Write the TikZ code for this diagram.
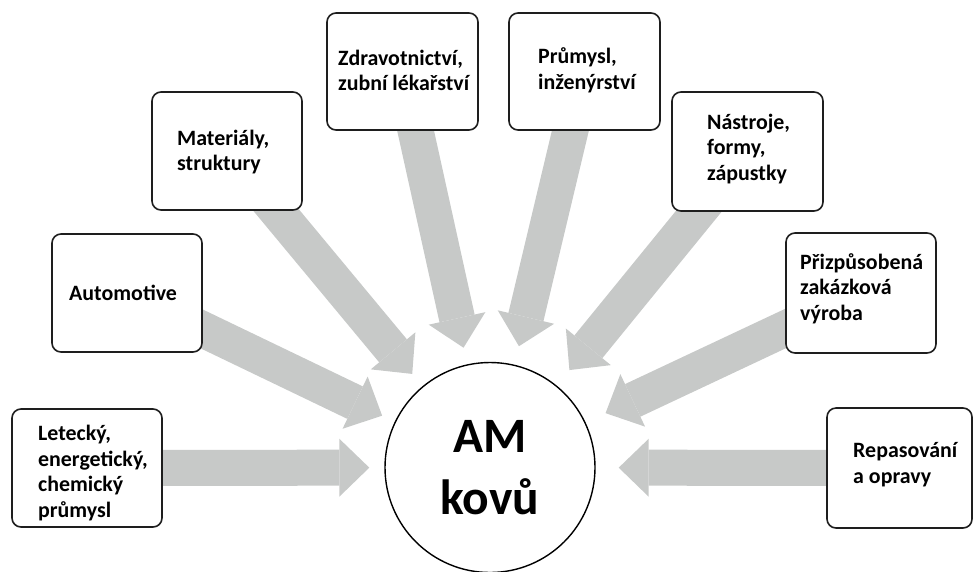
\documentclass[tikz,border=0pt]{standalone}
\usepackage{fontspec}
\setmainfont{Carlito}
\usetikzlibrary{arrows.meta,backgrounds}
\definecolor{arrowgray}{RGB}{199,201,200}
\definecolor{boxline}{RGB}{30,30,30}
\begin{document}
\begin{tikzpicture}[x=1pt,y=-1pt,
  box/.style={draw=boxline, line width=1.6pt, rounded corners=9pt, fill=white,
    minimum width=150pt, minimum height=118pt, inner sep=0pt},
  lbl/.style={anchor=base west, align=left, inner sep=0pt,
    font=\fontsize{21.9}{25.6}\selectfont\bfseries},
  hub/.style={circle, draw=black, line width=1.4pt, fill=white, minimum size=210pt,
    inner sep=0pt, align=center, font=\fontsize{49.5}{62}\selectfont\bfseries},
  flow/.style={draw=arrowgray, line width=36pt,
    -{Triangle[width=58pt,length=30pt,line width=0pt]}}]
\useasboundingbox (0,0) rectangle (973,571);

\node[hub] (am) at (490,467.5) {AM\\kovů};

\node[box] (lt) at (87,468) {};
\node[box] (au) at (127,293) {};
\node[box] (mt) at (227,151) {};
\node[box, minimum width=151pt, minimum height=117pt] (zd) at (402.5,71.5) {};
\node[box, minimum width=151pt, minimum height=117pt] (pr) at (584.5,71.5) {};
\node[box, minimum width=151pt, minimum height=119pt] (na) at (747.5,151.5) {};
\node[box, minimum height=120pt] (pz) at (861,293) {};
\node[box, minimum width=145pt, minimum height=120pt] (rp) at (899.5,468) {};

% base anchor = baseline of the last line
\node[lbl] (ltt) at (38,517.5) {Letecký,\\energetický,\\chemický\\průmysl};
\node[lbl] (aut) at (69,300.7) {Automotive};
\node[lbl] (mtt) at (177,170.7) {Materiály,\\struktury};
\node[lbl] (zdt) at (338,90.7) {Zdravotnictví,\\zubní lékařství};
\node[lbl] (prt) at (538,89.5) {Průmysl,\\inženýrství};
\node[lbl] (nat) at (707,180.5) {Nástroje,\\formy,\\zápustky};
\node[lbl] (pzt) at (800,320.3) {Přizpůsobená\\zakázková\\výroba};
\node[lbl] (rpt) at (853,483.5) {Repasování\\a opravy};

\begin{scope}[on background layer]
\draw[flow, shorten >=15pt] (lt.center) -- (am);
\draw[flow, shorten >=14pt] (au.center) -- (am);
\draw[flow, shorten >=16pt] (mt.center) -- (am);
\draw[flow, shorten >=17pt] (zd.center) -- (am);
\draw[flow, shorten >=19pt] (pr.center) -- (am);
\draw[flow, shorten >=20pt] (na.center) -- (am);
\draw[flow, shorten >=22pt] (pz.center) -- (am);
\draw[flow, shorten >=23pt] (rp.center) -- (am);
\end{scope}
\end{tikzpicture}
\end{document}
